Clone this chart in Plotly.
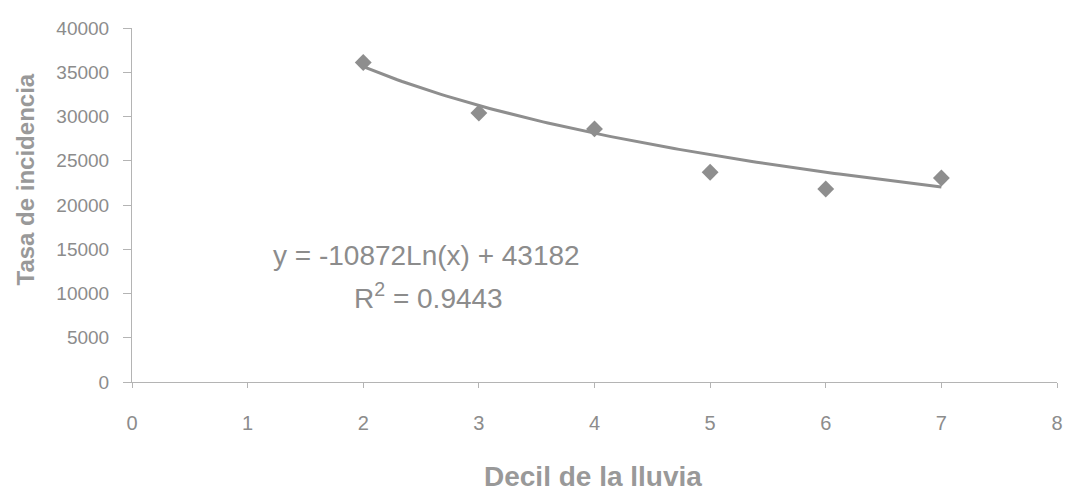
import numpy as np
import plotly.graph_objects as go

# Rainfall decile vs. incidence rate
deciles = [2, 3, 4, 5, 6, 7]
incidence = [36100, 30400, 28600, 23700, 21800, 23050]

# Logarithmic trendline coefficients (y = a*Ln(x) + b)
TREND_SLOPE = -10872
TREND_INTERCEPT = 43182
R_SQUARED = 0.9443

x_ticks = [0, 1, 2, 3, 4, 5, 6, 7, 8]
y_ticks = [0, 5000, 10000, 15000, 20000, 25000, 30000, 35000, 40000]

GREY_TEXT = "#8c8c8c"
GREY_MARK = "#8e8e8e"
GREY_AXIS = "#b4b4b4"
FONT = "Liberation Sans, Arial, sans-serif"

trend_x = np.linspace(min(deciles), max(deciles), 120)
trend_y = TREND_SLOPE * np.log(trend_x) + TREND_INTERCEPT

fig = go.Figure()
fig.add_trace(go.Scatter(
    x=trend_x, y=trend_y, mode="lines",
    line=dict(color=GREY_MARK, width=3),
    hoverinfo="skip", showlegend=False,
))
fig.add_trace(go.Scatter(
    x=deciles, y=incidence, mode="markers",
    marker=dict(symbol="diamond", size=13, color=GREY_MARK),
    showlegend=False,
))

fig.update_layout(
    width=1071, height=491,
    margin=dict(l=132, r=8, t=28, b=109),
    paper_bgcolor="white", plot_bgcolor="white",
    font=dict(family=FONT, color=GREY_TEXT),
    xaxis=dict(
        range=[0, 8], tickvals=x_ticks, ticktext=[str(v) for v in x_ticks],
        showgrid=False, zeroline=False,
        showline=True, linecolor=GREY_AXIS, linewidth=1,
        ticks="outside", ticklen=5, tickcolor=GREY_AXIS,
        ticklabelstandoff=18,
        tickfont=dict(size=20, color=GREY_TEXT, family=FONT),
    ),
    yaxis=dict(
        range=[0, 40000], tickvals=y_ticks, ticktext=[str(v) for v in y_ticks],
        showgrid=False, zeroline=False,
        showline=True, linecolor=GREY_AXIS, linewidth=1,
        ticks="outside", ticklen=8, tickcolor=GREY_AXIS,
        ticklabelstandoff=10,
        tickfont=dict(size=19, color=GREY_TEXT, family=FONT),
    ),
)

eq_text = f"y = {TREND_SLOPE}Ln(x) + {TREND_INTERCEPT}"
r2_text = f"R<sup>2</sup> = {R_SQUARED}"

fig.add_annotation(x=2.55, y=14350, xref="x", yref="y", text=eq_text,
                   showarrow=False, font=dict(size=28, color=GREY_TEXT, family=FONT),
                   xanchor="center", yanchor="middle")
fig.add_annotation(x=2.56, y=9700, xref="x", yref="y", text=r2_text,
                   showarrow=False, font=dict(size=28, color=GREY_TEXT, family=FONT),
                   xanchor="center", yanchor="middle")

# Axis titles
fig.add_annotation(x=-0.115, y=0.571, xref="paper", yref="paper",
                   text="<b>Tasa de incidencia</b>", textangle=-90, showarrow=False,
                   font=dict(size=24, color="#999999", family=FONT),
                   xanchor="center", yanchor="middle")
fig.add_annotation(x=0.498, y=-0.266, xref="paper", yref="paper",
                   text="<b>Decil de la lluvia</b>", showarrow=False,
                   font=dict(size=28, color="#999999", family=FONT),
                   xanchor="center", yanchor="middle")

fig.write_html("out.html")
